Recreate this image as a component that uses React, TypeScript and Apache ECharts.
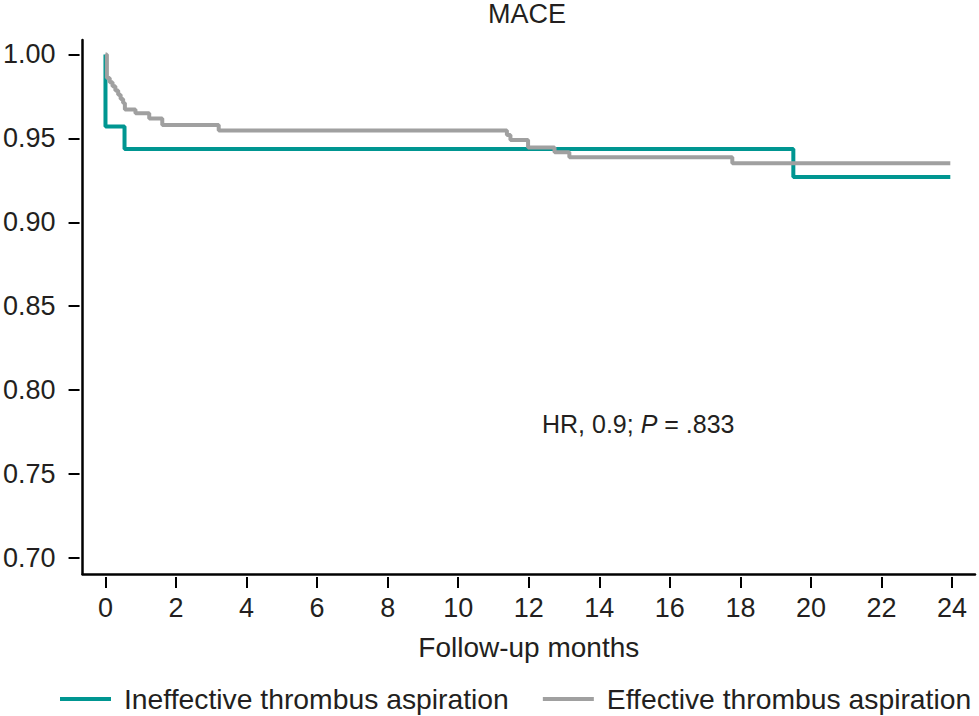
import React, { useEffect, useRef } from "react";
import * as echarts from "echarts";

const TITLE = "MACE";
const X_NAME = "Follow-up months";
const SERIES_NAMES = ["Ineffective thrombus aspiration", "Effective thrombus aspiration"];
const X_TICKS = [0, 2, 4, 6, 8, 10, 12, 14, 16, 18, 20, 22, 24];
const Y_TICKS = [0.7, 0.75, 0.8, 0.85, 0.9, 0.95, 1.0];

// Kaplan-Meier steps: [month, survival after event]
const ineffective: [number, number][] = [
  [0, 1.0],
  [0.0, 0.957],
  [0.54, 0.9437],
  [19.5, 0.927],
  [23.95, 0.927],
];

const effective: [number, number][] = [
  [0, 1.0],
  [0.04, 0.986],
  [0.12, 0.9835],
  [0.2, 0.981],
  [0.28, 0.9785],
  [0.36, 0.976],
  [0.43, 0.9735],
  [0.5, 0.971],
  [0.55, 0.9672],
  [0.85, 0.965],
  [1.24, 0.9618],
  [1.61, 0.958],
  [3.21, 0.9547],
  [11.38, 0.952],
  [11.48, 0.949],
  [11.98, 0.9445],
  [12.73, 0.9418],
  [13.15, 0.9388],
  [17.77, 0.9352],
  [23.95, 0.9352],
];

const ANNOTATION = ["HR, 0.9; ", "P", " = .833"];

const FONT = "'Liberation Sans', Arial, Helvetica, sans-serif";
const TEXT = "#231f20";
const TEAL = "#009691";
const GRAY = "#a0a0a0";

export default function App() {
  const ref = useRef<HTMLDivElement>(null);
  useEffect(() => {
    if (!ref.current) return;
    const chart = echarts.init(ref.current, undefined, { renderer: "svg" });
    const xMin = -0.65;
    const xMax = 24.65;
    const yMin = 0.6905;
    const yMax = 1.0086;
    const option: any = {
      animation: false,
      backgroundColor: "#ffffff",
      textStyle: { fontFamily: FONT },
      grid: { left: 80, right: 4, top: 40, bottom: 142, containLabel: false },
      xAxis: [
        {
          type: "value",
          min: xMin,
          max: xMax,
          position: "bottom",
          axisLine: { show: true, onZero: false, lineStyle: { color: "#000", width: 2.5 } },
          axisTick: { show: false },
          axisLabel: { show: false },
          splitLine: { show: false },
        },
        {
          type: "value",
          min: xMin,
          max: xMax,
          position: "bottom",
          offset: 3,
          axisLine: { show: false, onZero: false },
          axisTick: {
            show: true,
            length: 11,
            lineStyle: { color: "#000", width: 2 },
            customValues: X_TICKS,
          },
          axisLabel: {
            show: true,
            customValues: X_TICKS,
            margin: 17,
            fontSize: 27,
            color: TEXT,
            fontFamily: FONT,
            formatter: (v: number) => String(Math.round(v)),
          },
          splitLine: { show: false },
          name: X_NAME,
          nameLocation: "middle",
          nameGap: 56,
          nameTextStyle: { fontSize: 28, color: TEXT, fontFamily: FONT },
        },
      ],
      yAxis: [
        {
          type: "value",
          min: yMin,
          max: yMax,
          position: "left",
          axisLine: { show: true, onZero: false, lineStyle: { color: "#000", width: 2.5 } },
          axisTick: { show: false },
          axisLabel: { show: false },
          splitLine: { show: false },
        },
        {
          type: "value",
          min: yMin,
          max: yMax,
          position: "left",
          offset: 3,
          axisLine: { show: false, onZero: false },
          axisTick: {
            show: true,
            length: 11,
            lineStyle: { color: "#000", width: 2 },
            customValues: Y_TICKS,
          },
          axisLabel: {
            show: true,
            customValues: Y_TICKS,
            margin: 24,
            fontSize: 27,
            color: TEXT,
            fontFamily: FONT,
            formatter: (v: number) => v.toFixed(2),
          },
          splitLine: { show: false },
        },
      ],
      legend: {
        left: 60,
        top: 685,
        padding: 0,
        itemWidth: 51,
        itemHeight: 4,
        itemGap: 34,
        icon: "rect",
        textStyle: { fontSize: 28.3, color: TEXT, fontFamily: FONT, padding: [0, 0, 0, 8] },
        data: SERIES_NAMES,
      },
      graphic: [
        {
          type: "text",
          left: 528 - 40,
          top: 0,
          style: {
            text: TITLE,
            x: 0,
            y: 0,
            fontSize: 27,
            fill: TEXT,
            fontFamily: FONT,
          },
        },
        {
          type: "text",
          x: 542,
          y: 424,
          style: {
            text: `{n|${ANNOTATION[0]}}{i|${ANNOTATION[1]}}{n|${ANNOTATION[2]}}`,
            verticalAlign: "middle",
            align: "left",
            rich: {
              n: { fontSize: 25, fill: TEXT, fontFamily: FONT },
              i: { fontSize: 25, fill: TEXT, fontFamily: FONT, fontStyle: "italic" },
            },
          },
        },
      ],
      series: [
        {
          name: SERIES_NAMES[0],
          type: "line",
          step: "end",
          xAxisIndex: 0,
          yAxisIndex: 0,
          data: ineffective,
          showSymbol: false,
          symbol: "none",
          lineStyle: { color: TEAL, width: 4 },
          itemStyle: { color: TEAL },
          z: 2,
        },
        {
          name: SERIES_NAMES[1],
          type: "line",
          step: "end",
          xAxisIndex: 0,
          yAxisIndex: 0,
          data: effective,
          showSymbol: false,
          symbol: "none",
          lineStyle: { color: GRAY, width: 4 },
          itemStyle: { color: GRAY },
          z: 3,
        },
      ],
    };
    chart.setOption(option);
    return () => chart.dispose();
  }, []);
  return (
    <div
      ref={ref}
      style={{ position: "fixed", left: 0, top: 0, width: 979, height: 716, background: "#fff" }}
    />
  );
}
